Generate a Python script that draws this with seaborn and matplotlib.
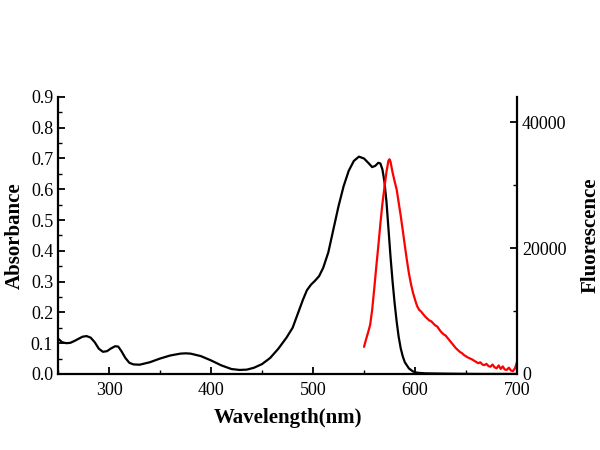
import numpy as np
import pandas as pd
import matplotlib
matplotlib.use("Agg")
import matplotlib.pyplot as plt
import seaborn as sns

# Absorbance spectrum (nm, absorbance)
abs_wl = [250, 254, 258, 262, 266, 270, 274, 278, 282, 286, 290, 294, 298, 302, 306, 309, 312,
          316, 320, 324, 330, 340, 350, 360, 370, 375, 380, 390, 400, 410, 420, 428, 435,
          442, 450, 458, 466, 474, 480, 485, 490, 494, 498, 502, 506, 510, 515, 520, 525,
          530, 535, 540, 545, 550, 555, 558, 561, 564, 566, 568, 570, 572, 574, 576, 578,
          580, 582, 584, 586, 588, 590, 594, 598, 602, 610, 630, 660, 700]
abs_val = [0.115, 0.103, 0.100, 0.101, 0.107, 0.114, 0.121, 0.123, 0.118, 0.103, 0.082, 0.072,
           0.074, 0.083, 0.090, 0.089, 0.075, 0.052, 0.036, 0.031, 0.030, 0.038, 0.050, 0.060,
           0.066, 0.067, 0.066, 0.058, 0.044, 0.028, 0.016, 0.013, 0.014, 0.020, 0.032, 0.052,
           0.082, 0.118, 0.150, 0.195, 0.240, 0.272, 0.290, 0.303, 0.318, 0.345, 0.395, 0.470,
           0.545, 0.610, 0.660, 0.692, 0.706, 0.700, 0.683, 0.672, 0.676, 0.686, 0.684, 0.665,
           0.625, 0.560, 0.470, 0.380, 0.300, 0.230, 0.170, 0.120, 0.083, 0.057, 0.038, 0.018,
           0.008, 0.004, 0.002, 0.001, 0.000, 0.000]

# Fluorescence emission spectrum (nm, intensity)
fl_wl = [550, 552, 554, 556, 558, 560, 562, 564, 566, 568, 570, 572, 574, 575, 576, 578, 580,
         582, 584, 586, 588, 590, 592, 594, 596, 598, 600, 602, 604, 606, 608, 610, 612, 614,
         616, 618, 620, 622, 624, 626, 628, 630, 632, 634, 636, 638, 640, 642, 644, 646, 648,
         650, 652, 654, 656, 658, 660, 662, 664, 666, 668, 670, 672, 674, 676, 678, 680, 682,
         684, 686, 688, 690, 692, 694, 696, 698, 700]
fl_val = [4300, 5500, 6600, 7800, 10200, 13500, 17000, 20300, 23800, 27000, 29600, 32100, 33900,
          34100, 33700, 32000, 30600, 29300, 27200, 25100, 22800, 20400, 18100, 16000, 14300,
          12900, 11800, 10800, 10200, 9900, 9500, 9100, 8800, 8500, 8350, 8000, 7700, 7500, 7000,
          6600, 6300, 6100, 5700, 5300, 4900, 4500, 4100, 3800, 3500, 3300, 3000, 2800, 2600,
          2450, 2300, 2100, 1900, 1700, 1850, 1500, 1400, 1600, 1250, 1150, 1500, 1050, 900,
          1350, 800, 1200, 700, 650, 1000, 550, 450, 900, 1900]

df_abs = pd.DataFrame({"wl": abs_wl, "A": abs_val})
df_fl = pd.DataFrame({"wl": fl_wl, "F": fl_val})

sns.set_theme(style="ticks")
plt.rcParams["font.family"] = ["Liberation Serif", "DejaVu Serif"]
plt.rcParams["text.color"] = "black"
plt.rcParams["axes.labelcolor"] = "black"
plt.rcParams["xtick.color"] = "black"
plt.rcParams["ytick.color"] = "black"

fig = plt.figure(figsize=(6, 4.5), dpi=100)
ax = fig.add_axes([0.0967, 0.169, 0.765, 0.6156])
ax2 = ax.twinx()

sns.lineplot(data=df_abs, x="wl", y="A", ax=ax, color="black", linewidth=1.6)
sns.lineplot(data=df_fl, x="wl", y="F", ax=ax2, color="#ff0000", linewidth=1.6)

ax.set_xlim(250, 700)
ax.set_ylim(0, 0.9)
ax2.set_ylim(0, 44000)

ax.set_xticks([300, 400, 500, 600, 700])
ax.set_xticks(np.arange(250, 701, 50), minor=True)
ax.set_yticks(np.round(np.arange(0, 0.91, 0.1), 1))
ax.set_yticks(np.round(np.arange(0, 0.91, 0.05), 2), minor=True)
ax.set_yticklabels([f"{v:.1f}" for v in np.arange(0, 0.91, 0.1)])
ax2.set_yticks([0, 20000, 40000])
ax2.set_yticks([10000, 30000], minor=True)

for a in (ax, ax2):
    a.tick_params(which="major", direction="in", length=5, width=1.3, labelsize=13,
                  colors="black", labelcolor="black")
    a.tick_params(which="minor", direction="in", length=3, width=1.0, colors="black")
    a.spines["top"].set_visible(False)
    for s in ("left", "bottom", "right"):
        a.spines[s].set_linewidth(1.6)
        a.spines[s].set_color("black")
ax.spines["right"].set_visible(False)
ax2.spines["left"].set_visible(False)
ax2.spines["bottom"].set_visible(False)
ax.tick_params(axis="x", pad=6)

ax.set_xlabel("Wavelength(nm)", fontsize=15, fontweight="bold", labelpad=6, color="black")
ax.set_ylabel("Absorbance", fontsize=15, fontweight="bold", labelpad=4, color="black")
ax2.set_ylabel("Fluorescence", fontsize=15, fontweight="bold", labelpad=10, color="black")

fig.savefig("out.png", dpi=100)
